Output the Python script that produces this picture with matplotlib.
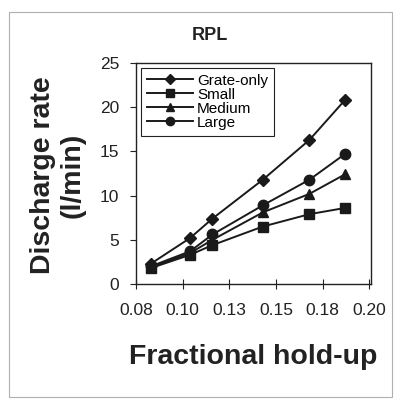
import matplotlib
matplotlib.use("Agg")
import matplotlib.pyplot as plt
from matplotlib.patches import Rectangle

plt.rcParams['font.family'] = ['Liberation Sans', 'DejaVu Sans']

holdup = [0.083, 0.104, 0.116, 0.143, 0.168, 0.187]
grate_only = [2.3, 5.2, 7.4, 11.8, 16.3, 20.8]
small = [1.8, 3.3, 4.4, 6.5, 7.9, 8.6]
medium = [1.9, 3.5, 5.0, 8.1, 10.2, 12.4]
large = [2.0, 3.7, 5.6, 8.9, 11.8, 14.7]
series_names = ["Grate-only", "Small", "Medium", "Large"]
x_ticks = [0.075, 0.1, 0.125, 0.15, 0.175, 0.2]
x_tick_labels = ["0.08", "0.10", "0.13", "0.15", "0.18", "0.20"]
y_ticks = [0, 5, 10, 15, 20, 25]

W, H = 398, 405
fig = plt.figure(figsize=(W / 100, H / 100), dpi=100)
fig.patch.set_facecolor('white')

# outer frame
fig.patches.append(Rectangle((9 / W, 1 - 397 / H), (392 - 9) / W, (397 - 12) / H,
                             transform=fig.transFigure, fill=False,
                             edgecolor='#b0b0b0', linewidth=0.8))

ax = fig.add_axes([136 / W, 1 - 284 / H, (371 - 136) / W, (284 - 63) / H])

markers = ['D', 's', '^', 'o']
sizes = [6, 7.5, 7, 7.5]
for vals, name, m, ms in zip([grate_only, small, medium, large], series_names, markers, sizes):
    ax.plot(holdup, vals, color='#1a1a1a', linewidth=1.4, marker=m, markersize=ms,
            markerfacecolor='#1a1a1a', markeredgecolor='#1a1a1a', label=name)

ax.set_xlim(0.075, 0.201)
ax.set_ylim(0, 25)
ax.set_xticks(x_ticks)
ax.set_xticklabels(x_tick_labels)
ax.set_yticks(y_ticks)
ax.tick_params(axis='y', direction='out', length=4, width=0.8, pad=8, labelsize=12.5, colors='#222222')
ax.tick_params(axis='x', direction='inout', length=7, width=0.8, pad=10, labelsize=12.5, colors='#222222')
for s in ax.spines.values():
    s.set_linewidth(1.0)
    s.set_color('#222222')

ax.set_xlabel("Fractional hold-up", fontsize=20.5, fontweight='bold', color='#222222', labelpad=19)
fig.text(58 / W, 1 - 175 / H, "Discharge rate\n(l/min)", fontsize=20.5, fontweight='bold',
         color='#222222', rotation=90, ha='center', va='center', linespacing=1.15,
         multialignment='center')
fig.text(210 / W, 1 - 35 / H, "RPL", fontsize=13, fontweight='bold', color='#222222',
         ha='center', va='center')

leg = ax.legend(loc='upper left', fontsize=11, frameon=True, fancybox=False,
                edgecolor='#222222', framealpha=1, labelspacing=0.0, handlelength=3.0,
                handletextpad=0.3, borderpad=0.4, borderaxespad=0.3, markerscale=0.8)
leg.get_frame().set_linewidth(0.8)

fig.savefig("out.png", dpi=100)
